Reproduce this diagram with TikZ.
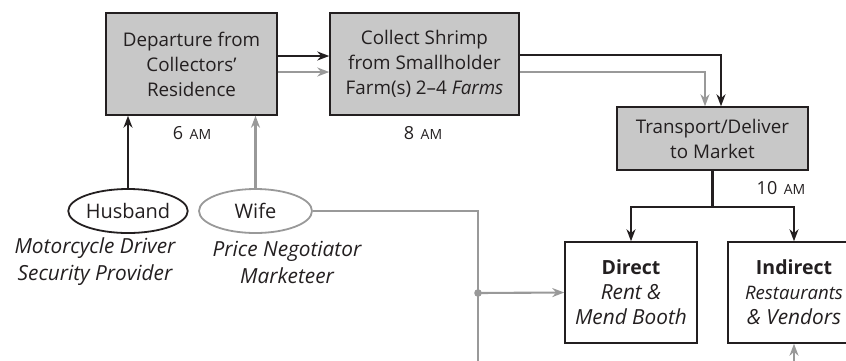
\documentclass[tikz,border=0pt]{standalone}
\usepackage{fontspec}
\setmainfont{Open Sans}
\usetikzlibrary{arrows.meta,shapes.geometric}
\definecolor{ink}{HTML}{231F20}
\definecolor{boxfill}{HTML}{C8C8C8}
\definecolor{lgray}{HTML}{999999}
\newcommand{\smam}{\hspace{6.5pt}{\fontsize{14pt}{14pt}\selectfont AM}}
\newcommand{\boxit}[2][20.8pt]{{\fontsize{#1}{25pt}\selectfont\itshape #2}}
\begin{document}
\begin{tikzpicture}[x=1pt,y=-1pt,
  every node/.style={text=ink, font=\fontsize{18.8pt}{25pt}\selectfont},
  stepbox/.style={draw=ink, line width=1.5pt, fill=boxfill, align=center, inner sep=0pt},
  outbox/.style={draw=ink, line width=1.5pt, fill=white, align=center, inner sep=0pt,
    minimum width=132pt, minimum height=101pt,
    font=\fontsize{19.5pt}{25pt}\selectfont},
  person/.style={ellipse, line width=1.8pt, inner sep=0pt, minimum height=44pt,
    font=\fontsize{20pt}{24pt}\selectfont},
  blk/.style={draw=ink, line width=2.1pt, -{Stealth[length=12pt,width=9pt]}},
  gry/.style={draw=lgray, line width=2.1pt, -{Stealth[length=12pt,width=9pt]}},
  gryline/.style={draw=lgray, line width=2.1pt},
  timelbl/.style={font=\fontsize{18pt}{20pt}\selectfont},
  rolelbl/.style={align=center, font=\fontsize{20.8pt}{27pt}\selectfont\itshape}]
\useasboundingbox (0,0) rectangle (846,360);
\clip (0,0) rectangle (846,360);

% process steps
\node[stepbox, minimum width=171pt, minimum height=102pt] (dep) at (191.5,64)
  {Departure from\\Collectors'\\Residence};
\node[stepbox, minimum width=189pt, minimum height=102pt] (col) at (424.5,64)
  {Collect Shrimp\\from Smallholder\\Farm(s) 2--4 \textit{Farms}};
\node[stepbox, minimum width=191pt, minimum height=63pt] (tra) at (712.5,138.5)
  {Transport/Deliver\\to Market};

% market outlets
\node[outbox] (dir) at (631,292.5) {\textbf{Direct}\\\boxit{Rent \&}\\\boxit{Mend Booth}};
\node[outbox] (ind) at (794,292.5) {\textbf{Indirect}\\\boxit[18.6pt]{Restaurants}\\\boxit{\& Vendors}};

% collectors
\node[person, draw=ink, minimum width=111pt] (hus) at (128,211) {Husband};
\node[person, draw=lgray, minimum width=113pt] (wif) at (255.5,211) {Wife};

% times
\node[timelbl] (t6) at (192,133) {6\smam};
\node[timelbl] (t8) at (423,133) {8\smam};
\node[timelbl] (t10) at (781,188) {10\smam};

% roles
\node[rolelbl] (hrole) at (95,262) {Motorcycle Driver\\Security Provider};
\node[rolelbl] (wrole) at (287,262) {Price Negotiator\\Marketeer};

% husband and wife to departure
\draw[blk] (hus.north) -- (hus.north |- dep.south);
\draw[gry] (wif.north) -- (wif.north |- dep.south);

% departure to collection
\draw[blk] ([yshift=8pt]dep.east) -- ([yshift=8pt]col.west);
\draw[gry] ([yshift=-8pt]dep.east) -- ([yshift=-8pt]col.west);

% collection to transport
\draw[blk] ([yshift=9pt]col.east) -| ([xshift=8.5pt]tra.north);
\draw[gry] ([yshift=-8pt]col.east) -| ([xshift=-7.5pt]tra.north);

% transport to outlets
\coordinate (split) at (712.5,207);
\draw[draw=ink, line width=2.1pt] (tra.south) -- (split);
\draw[blk] (split) -| (dir.north);
\draw[blk] (split) -| (ind.north);

% wife's route to the outlets
\coordinate (wcorner) at (478,211);
\coordinate (junc) at (478,293);
\coordinate (wbottom) at (478,362);
\coordinate (ibottom) at (794,362);
\draw[gryline] (wif.east) -- (wcorner) -- (wbottom);
\fill[lgray] (junc) circle (3.8pt);
\draw[gry] (junc) -- (dir.west);
\draw[gry] (ibottom) -- (ind.south);
\end{tikzpicture}
\end{document}
